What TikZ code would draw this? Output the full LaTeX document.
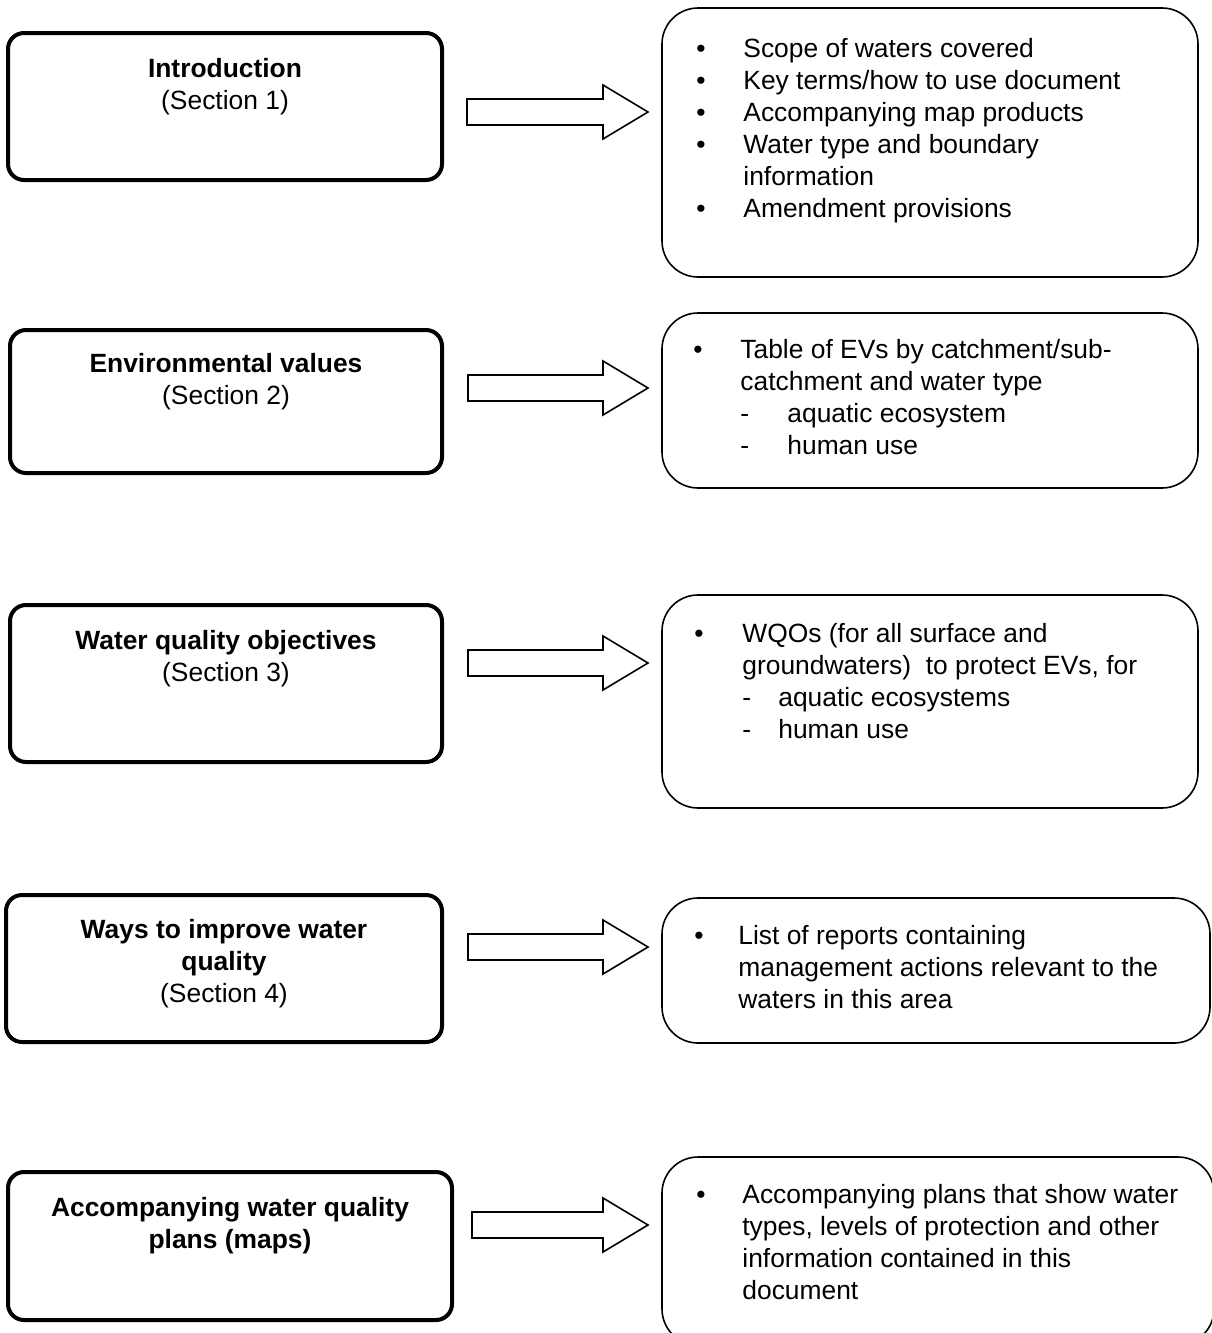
\documentclass[tikz,border=0pt]{standalone}
\usepackage{fontspec}
\setmainfont{Liberation Sans}

\begin{document}
\begin{tikzpicture}[x=0.5pt,y=-0.5pt,every node/.style={font=\fontsize{13.2}{16}\selectfont},secbox/.style={draw=black,line width=2pt,rounded corners=8pt,minimum width=217pt,minimum height=73.5pt},sectitle/.style={align=center,anchor=base,inner sep=0pt},listbox/.style={draw=black,line width=0.8pt,rounded corners=18pt,minimum width=268pt},listtext/.style={anchor=base west,inner sep=0pt},blockarrow/.style={draw=black,line width=0.8pt,line join=miter}]
\useasboundingbox (0,0) rectangle (1211,1333);
\def\arrowL{603}
\def\arrowT{648}

% left column: sections (title nodes sit on their last baseline)
\node[secbox] (intro) at (225,106.5) {};
\node[sectitle] (introT) at (225,109) {\textbf{Introduction}\\(Section 1)};
\node[secbox,minimum width=216pt,minimum height=71.5pt] (envval) at (226,401.5) {};
\node[sectitle] (envvalT) at (226,404) {\textbf{Environmental values}\\(Section 2)};
\node[secbox,minimum width=216pt,minimum height=78.5pt] (wqo) at (226,683.5) {};
\node[sectitle] (wqoT) at (226,681) {\textbf{Water quality objectives}\\(Section 3)};
\node[secbox,minimum width=218pt] (improve) at (224,968.5) {};
\node[sectitle] (improveT) at (224,1002) {\textbf{Ways to improve water}\\\textbf{quality}\\(Section 4)};
\node[secbox,minimum width=222pt,minimum height=74pt] (plans) at (230,1246) {};
\node[sectitle] (plansT) at (230,1248) {\textbf{Accompanying water quality}\\\textbf{plans (maps)}};

% block arrows
\foreach \ay/\ax in {112/467,388/468,663/468,947/468,1225/472}
  \draw[blockarrow] (\ax,\ay-13) -- (\arrowL,\ay-13) -- (\arrowL,\ay-27) -- (\arrowT,\ay) -- (\arrowL,\ay+27) -- (\arrowL,\ay+13) -- (\ax,\ay+13) -- cycle;

% right column: contents
\node[listbox,minimum height=134.5pt] (introlist) at (930,142.5) {};
\node[listtext] (introlistT) at (696,57) {\begin{tabular}[t]{@{}p{23.5pt}@{}l@{}}
\textbullet & Scope of waters covered\\
\textbullet & Key terms/how to use document\\
\textbullet & Accompanying map products\\
\textbullet & Water type and boundary\\
 & information\\
\textbullet & Amendment provisions
\end{tabular}};
\node[listbox,minimum height=87.5pt] (envvallist) at (930,400.5) {};
\node[listtext] (envvallistT) at (693,358) {\begin{tabular}[t]{@{}p{23.5pt}@{}l@{}}
\textbullet & Table of EVs by catchment/sub-\\
 & catchment and water type\\
 & \makebox[23.5pt][l]{-}aquatic ecosystem\\
 & \makebox[23.5pt][l]{-}human use
\end{tabular}};
\node[listbox,minimum height=106.5pt] (wqolist) at (930,701.5) {};
\node[listtext] (wqolistT) at (694,642) {\begin{tabular}[t]{@{}p{24pt}@{}l@{}}
\textbullet & WQOs (for all surface and\\
 & groundwaters)\ \ to protect EVs, for\\
 & \makebox[18pt][l]{-}aquatic ecosystems\\
 & \makebox[18pt][l]{-}human use
\end{tabular}};
\node[listbox,minimum width=274pt,minimum height=72.5pt] (improvelist) at (936,970.5) {};
\node[listtext] (improvelistT) at (694,944) {\begin{tabular}[t]{@{}p{22pt}@{}l@{}}
\textbullet & List of reports containing\\
 & management actions relevant to the\\
 & waters in this area
\end{tabular}};
\node[listbox,minimum width=276pt,minimum height=94pt] (planslist) at (938,1251) {};
\node[listtext] (planslistT) at (696,1203) {\begin{tabular}[t]{@{}p{23pt}@{}l@{}}
\textbullet & Accompanying plans that show water\\
 & types, levels of protection and other\\
 & information contained in this\\
 & document
\end{tabular}};
\end{tikzpicture}
\end{document}
